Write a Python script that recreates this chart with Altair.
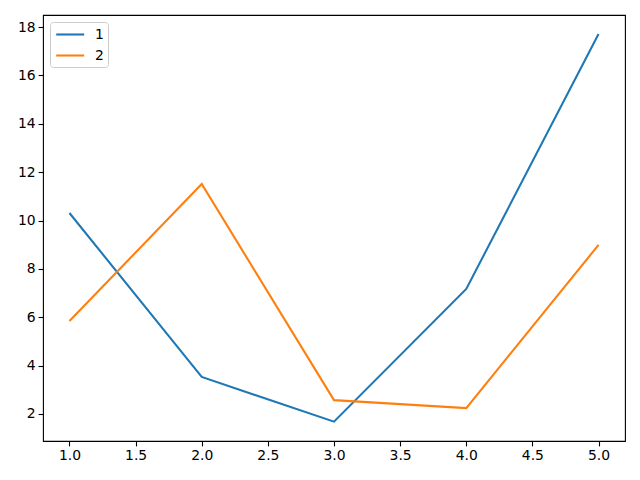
import altair as alt
import pandas as pd

x_vals = [1, 2, 3, 4, 5]
series_1 = [10.31, 3.53, 1.68, 7.17, 17.71]
series_2 = [5.84, 11.51, 2.57, 2.24, 8.99]
series_names = ["1", "2"]
colors = ["#1f77b4", "#ff7f0e"]

rows = []
for name, vals in zip(series_names, [series_1, series_2]):
    for xv, yv in zip(x_vals, vals):
        rows.append({"x": xv, "y": yv, "series": name})
df = pd.DataFrame(rows)

FONT = "DejaVu Sans"

chart = alt.Chart(df).mark_line(strokeWidth=2.08).encode(
    x=alt.X("x:Q", scale=alt.Scale(domain=[0.8, 5.2], nice=False, zero=False),
            axis=alt.Axis(values=[1.0, 1.5, 2.0, 2.5, 3.0, 3.5, 4.0, 4.5, 5.0], format=".1f",
                          title=None, grid=False)),
    y=alt.Y("y:Q", scale=alt.Scale(domain=[0.88, 18.5], nice=False, zero=False),
            axis=alt.Axis(values=[2, 4, 6, 8, 10, 12, 14, 16, 18], title=None, grid=False)),
    color=alt.Color("series:N", scale=alt.Scale(domain=series_names, range=colors),
                    legend=alt.Legend(title=None, orient="top-left", offset=7,
                                      symbolType="M-0.9,0L3.1,0", symbolSize=196,
                                      symbolStrokeWidth=2.08, labelFontSize=13.9,
                                      labelFont=FONT, labelColor="black",
                                      padding=4, rowPadding=5, labelOffset=24,
                                      strokeColor="#cccccc", fillColor="rgba(255,255,255,0.8)",
                                      cornerRadius=3)),
).properties(
    width=582, height=426,
    autosize=alt.AutoSizeParams(type="none"),
    padding={"left": 35, "top": 7, "right": 7, "bottom": 31},
).configure_view(
    stroke="black", strokeWidth=1.1
).configure_axis(
    domain=False, tickColor="black", tickSize=4.9, tickWidth=1.1,
    labelFont=FONT, labelFontSize=13.9, labelColor="black", labelPadding=3,
)

chart.save("out.html", embed_options={"renderer": "svg", "actions": False})
